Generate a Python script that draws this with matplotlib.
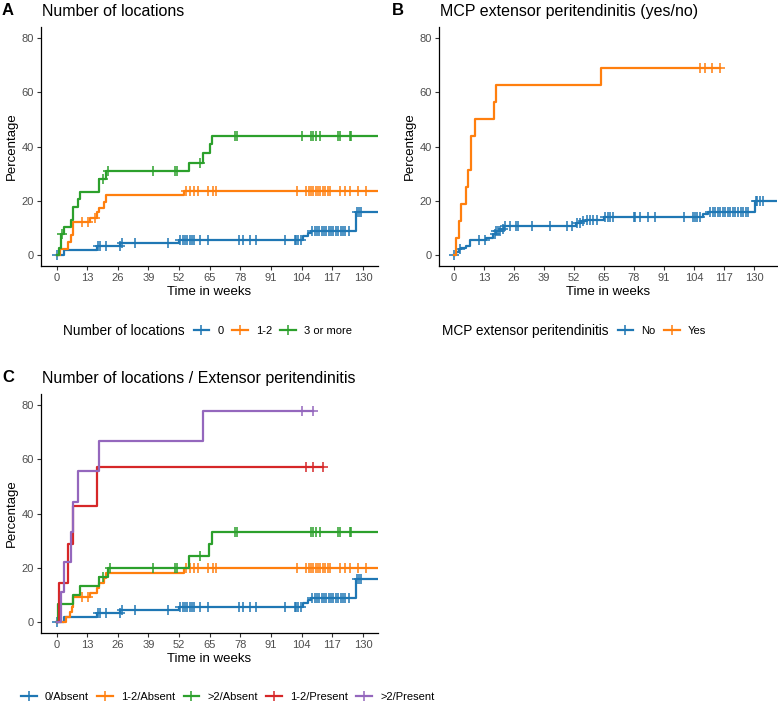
import numpy as np
import matplotlib
matplotlib.use('Agg')
import matplotlib.pyplot as plt
from matplotlib.lines import Line2D

plt.rcParams['font.family'] = ['Liberation Sans', 'DejaVu Sans']

W, H = 778, 702
BLUE, ORANGE, GREEN, RED, PURPLE = '#1F77B4', '#FF7F0E', '#2CA02C', '#D62728', '#9467BD'

week_ticks = [0, 13, 26, 39, 52, 65, 78, 91, 104, 117, 130]
pct_ticks = [0, 20, 40, 60, 80]

# ---- Panel A : number of locations ----
a0_t = [0, 3, 17, 27, 52, 104.5, 106.5, 108, 127]
a0_v = [0, 2.0, 3.5, 4.6, 5.7, 7.0, 8.0, 8.8, 15.8]
a0_cens = [0, 17.7, 18.4, 20.9, 26.9, 27.6, 33.2, 47.1, 52.5, 53.5, 54.5, 55.5,
           56.5, 57.5, 58.5, 60.8, 64.3, 77.3, 79.2, 82, 84.8, 97.1, 101, 101.8,
           102.5, 103.9, 108.5, 109.5, 110.5, 111.5, 112.5, 113.5, 114.5, 115.5,
           116.5, 117.5, 118.5, 119.5, 120.5, 121.5, 122.5, 124, 127.5, 128.3, 129]

a12_t = [0, 1.5, 5, 6, 7, 14, 17, 18, 20, 21, 54]
a12_v = [0, 2.4, 4.9, 7.3, 12.2, 13.6, 16.0, 17.4, 19.7, 22.1, 23.6]
a12_cens = [10.6, 13.4, 16.5, 55.1, 56.5, 58.4, 60.1, 64.3, 66.4, 67.8, 102.2,
            106, 107, 108, 109, 110, 111, 112, 113, 114, 115, 116, 120.1, 122.3,
            124.4, 127.9, 131.4]

a3_t = [0, 1, 2, 3, 6, 7, 9, 10, 18, 21, 56, 62, 65, 66]
a3_v = [0, 2.6, 7.7, 10.3, 12.8, 17.9, 20.5, 23.1, 28.2, 30.8, 34.1, 37.5, 40.8, 43.8]
a3_cens = [2.3, 19.8, 21.9, 41, 50.2, 50.9, 60.8, 75.9, 76.6, 104.2, 108.1, 108.8,
           110.2, 111.7, 119.4, 120.1, 124.4, 125.1]

# ---- Panel B : MCP extensor peritendinitis ----
bno_t = [0, 1, 2, 3, 5, 7, 14, 17, 18, 20, 21.5, 53, 55, 57, 65, 108, 110, 130.3]
bno_v = [0, 1.1, 2.2, 2.8, 3.3, 5.5, 6.4, 7.6, 8.8, 9.8, 10.9, 11.8, 12.5, 13.1,
         14.1, 15.1, 15.9, 20.1]
bno_cens = [0, 2.5, 11, 13.5, 17.7, 18.4, 19.1, 19.9, 21.3, 22, 24.2, 26.8, 27.8,
            33.6, 41.6, 48.8, 51, 53.2, 54.6, 56.1, 57.5, 59, 60.4, 61.9, 65.5,
            66.9, 67.7, 69, 78, 78.6, 80.7, 84.3, 87.3, 99.6, 103.6, 104.5, 105.5,
            106.5, 111, 112.1, 113.2, 114.3, 115.4, 116.5, 117.6, 118.7, 119.8,
            120.9, 122, 123.1, 124.2, 125.3, 126.4, 127.5, 130.7, 131.5, 132.5, 134]

byes_t = [0, 0.7, 2, 3.2, 5.1, 6.1, 7.3, 9, 17.4, 18.4, 63.8]
byes_v = [0, 6.25, 12.5, 18.75, 25, 31.25, 43.75, 50, 56.25, 62.5, 68.75]
byes_cens = [106.8, 109, 111.9, 115.5]

# ---- Panel C : locations / extensor peritendinitis ----
c12a_t = [0, 4, 5.5, 6.5, 7, 14, 17, 18, 20, 21, 54]
c12a_v = [0, 1.8, 3.6, 5.5, 9.1, 10.9, 12.7, 14.5, 16.4, 18.2, 20.0]
c12a_cens = [10.6, 13.4, 55.1, 56.5, 58.4, 60.1, 64.3, 66.4, 67.8, 102.2, 106, 107,
             108, 109, 110, 111, 112, 113, 114, 115, 116, 120.1, 122.3, 124.4,
             127.9, 131.4]

c3a_t = [0, 0.7, 7, 10, 18, 22, 56, 64.6, 66]
c3a_v = [0, 6.7, 10.0, 13.3, 16.7, 20.0, 24.4, 28.9, 33.3]
c3a_cens = [19.8, 22.5, 41, 50.2, 50.9, 60.8, 75.9, 76.6, 108.1, 108.8, 110.2,
            111.7, 119.4, 120.1, 124.4, 125.1]

c12p_t = [0, 1, 5, 7, 17]
c12p_v = [0, 14.3, 28.6, 42.9, 57.1]
c12p_cens = [106, 108.8, 113]

c3p_t = [0, 2, 3, 6, 7, 9, 18, 62]
c3p_v = [0, 11.1, 22.2, 33.3, 44.4, 55.6, 66.7, 77.8]
c3p_cens = [104, 109]

fig = plt.figure(figsize=(W / 100, H / 100), dpi=100)


def add_ax(x0, y0, x1, y1):
    return fig.add_axes([x0 / W, 1 - y1 / H, (x1 - x0) / W, (y1 - y0) / H])


def km(ax, t, v, end, cens, color):
    ax.step(list(t) + [end], list(v) + [v[-1]], where='post', color=color, lw=1.6)
    ct = np.array(cens, dtype=float)
    cv = np.array(v)[np.searchsorted(t, ct, side='right') - 1]
    ax.plot(ct, cv, ls='none', marker='+', ms=6.5, mew=1.1, color=color)


def style(ax, xmax, title, letter, letter_x, title_y):
    ax.set_xlim(-6.6, xmax)
    ax.set_ylim(-4, 84)
    ax.set_xticks(week_ticks)
    ax.set_yticks(pct_ticks)
    for s in ['top', 'right']:
        ax.spines[s].set_visible(False)
    for s in ['left', 'bottom']:
        ax.spines[s].set_linewidth(0.9)
    ax.tick_params(length=3, width=0.8, color='#333333', labelcolor='#4D4D4D',
                   labelsize=8, pad=2)
    ax.set_xlabel('Time in weeks', fontsize=9.5, labelpad=2)
    ax.set_ylabel('Percentage', fontsize=9.5, labelpad=3)
    pos = ax.get_position()
    fig.text(pos.x0 + 1 / W, 1 - title_y / H, title, fontsize=11.5, va='baseline')
    fig.text(letter_x / W, 1 - (title_y - 1) / H, letter, fontsize=12,
             fontweight='bold', va='baseline')


axA = add_ax(41, 27, 378, 266)
km(axA, a0_t, a0_v, 140, a0_cens, BLUE)
km(axA, a12_t, a12_v, 140, a12_cens, ORANGE)
km(axA, a3_t, a3_v, 140, a3_cens, GREEN)
style(axA, 136.4, 'Number of locations', 'A', 2, 16)

axB = add_ax(439, 27, 777, 266)
km(axB, bno_t, bno_v, 142, bno_cens, BLUE)
km(axB, byes_t, byes_v, 115.5, byes_cens, ORANGE)
style(axB, 140.0, 'MCP extensor peritendinitis (yes/no)', 'B', 392, 16)
axB.set_xlim(-6.5, 140.0)

axC = add_ax(41, 394, 378, 633)
km(axC, a0_t, a0_v, 140, a0_cens, BLUE)
km(axC, c12a_t, c12a_v, 140, c12a_cens, ORANGE)
km(axC, c3a_t, c3a_v, 140, c3a_cens, GREEN)
km(axC, c12p_t, c12p_v, 113, c12p_cens, RED)
km(axC, c3p_t, c3p_v, 109, c3p_cens, PURPLE)
style(axC, 136.4, 'Number of locations / Extensor peritendinitis', 'C', 2, 383)

renderer = fig.canvas.get_renderer()


def legend_row(title, labels, colors, x_px, y_px):
    x0 = x_px
    if title:
        t = fig.text(x_px / W, 1 - y_px / H, title, fontsize=9.8, va='center')
        x0 = t.get_window_extent(renderer).x1 + 9
    handles = [Line2D([], [], color=c, lw=1.6, marker='+', ms=6.5, mew=1.1)
               for c in colors]
    fig.legend(handles, labels, loc='center left',
               bbox_to_anchor=(x0 / W, 1 - y_px / H), ncol=len(labels),
               frameon=False, fontsize=8, handlelength=1.4, handletextpad=0.75,
               columnspacing=0.75, borderpad=0, borderaxespad=0)


legend_row('Number of locations', ['0', '1-2', '3 or more'],
           [BLUE, ORANGE, GREEN], 63, 331)
legend_row('MCP extensor peritendinitis', ['No', 'Yes'], [BLUE, ORANGE], 442, 331)
legend_row(None, ['0/Absent', '1-2/Absent', '>2/Absent', '1-2/Present', '>2/Present'],
           [BLUE, ORANGE, GREEN, RED, PURPLE], 21, 697)

fig.savefig('out.png', dpi=100)
